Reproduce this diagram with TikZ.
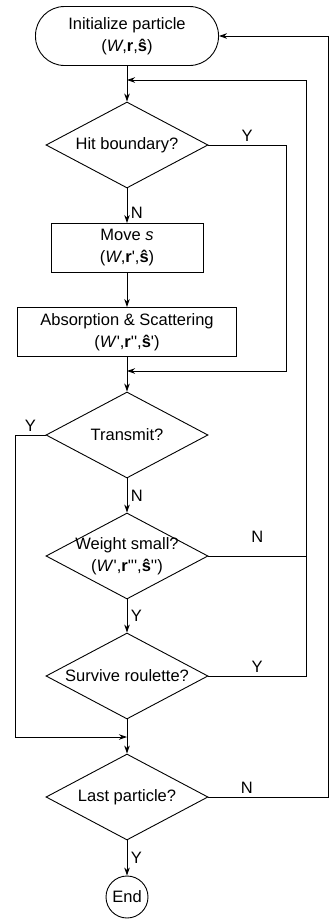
\documentclass[tikz,border=0pt]{standalone}
\usepackage{fontspec}
\newfontfamily\flowfont{Liberation Sans}
\usetikzlibrary{shapes.geometric,arrows.meta}

\tikzset{
  terminal/.style={draw, rounded corners=29pt, minimum width=183pt, minimum height=59pt, inner sep=0pt, align=center},
  stepbox/.style={draw, minimum height=49pt, inner sep=0pt, align=center},
  decide/.style={draw, diamond, aspect=1.9, minimum width=162pt, minimum height=86pt, inner sep=0pt, align=center},
  flow/.style={-{Stealth[length=8pt,width=5.5pt]}},
}

\begin{document}
\begin{tikzpicture}[x=1pt, y=-1pt, line width=0.9pt, font=\flowfont\fontsize{16.5}{22}\selectfont]
      \useasboundingbox (0,0) rectangle (332,919);
      \node[terminal] (start) at (127,36) {Initialize particle\\(\textit{W},\textbf{r},\textbf{ŝ})};
      \node[decide] (hit) at (127,145) {Hit boundary?};
      \node[stepbox, minimum width=152pt] (move) at (127,248) {Move \textit{s}\\(\textit{W},\textbf{r}',\textbf{ŝ})};
      \node[stepbox, minimum width=219pt] (absorb) at (127,332) {Absorption \& Scattering\\(\textit{W}',\textbf{r}'',\textbf{ŝ}')};
      \node[decide] (trans) at (127,435) {Transmit?};
      \node[decide, label={[align=center]center:Weight small?\\(\textit{W}',\textbf{r}''',\textbf{ŝ}'')}] (weight) at (127,556) {};
      \node[decide] (survive) at (127,676) {Survive roulette?};
      \node[decide] (last) at (127,797) {Last particle?};
      \node[draw, circle, minimum size=42pt, inner sep=0pt] (end) at (127,897) {End};
      \coordinate (j1) at (127,80);
      \coordinate (j2) at (127,371);
      \coordinate (j3) at (127,737);
      \coordinate (rail0) at (15,0);
      \coordinate (rail1) at (286,0);
      \coordinate (rail2) at (306,0);
      \coordinate (rail3) at (328,0);
      \begin{scope}[flow]
        \draw (start) to (hit);
        \draw (hit) to node[pos=0.7, right] (nhit) {N} (move);
        \draw (move) to (absorb);
        \draw (absorb) to (trans);
        \draw (trans) to node[right] (ntrans) {N} (weight);
        \draw (weight) to node[right] (yweight) {Y} (survive);
        \draw (survive) to (last);
        \draw (last) to node[right] (ylast) {Y} (end);
        \draw (hit) -- node[above] (yhit) {Y} (hit -| rail1) -- (rail1 |- j2) -- (j2);
        \draw (trans) -- node[above] (ytrans) {Y} (trans -| rail0) -- (rail0 |- j3) -- (j3);
        \draw (survive) -- node[above] (ysurvive) {Y} (survive -| rail2) -- (rail2 |- j1) -- (j1);
        \draw (last) -- node[pos=0.32, above] (nlast) {N} (last -| rail3) -- (rail3 |- start) -- (start);
      \end{scope}
      \draw (weight) -- node[above=10pt] (nweight) {N} (weight -| rail2);
    \end{tikzpicture}
\end{document}
